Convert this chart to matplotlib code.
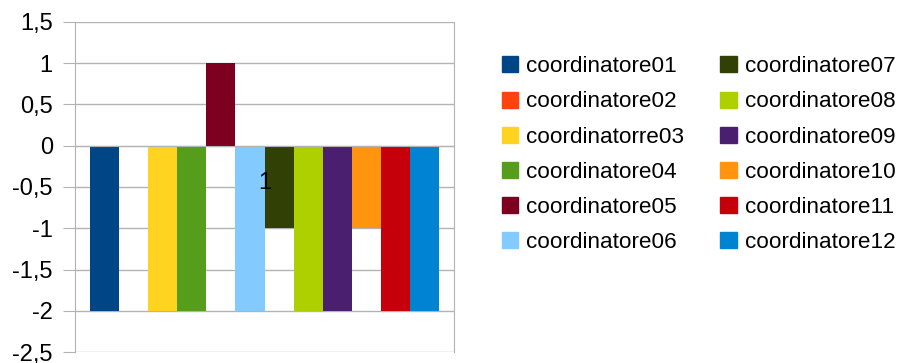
import matplotlib
matplotlib.use("Agg")
import matplotlib.pyplot as plt
from matplotlib.patches import Patch

plt.rcParams["font.family"] = ["Liberation Sans", "DejaVu Sans"]

# One category, twelve series (LibreOffice default palette)
categories = ["1"]
series_names = ["coordinatore01", "coordinatore02", "coordinatorre03", "coordinatore04",
                "coordinatore05", "coordinatore06", "coordinatore07", "coordinatore08",
                "coordinatore09", "coordinatore10", "coordinatore11", "coordinatore12"]
values = [-2, 0, -2, -2, 1, -2, -1, -2, -2, -1, -2, -2]
colors = ["#004586", "#ff420e", "#ffd320", "#579d1c", "#7e0021", "#83caff",
          "#314004", "#aecf00", "#4b1f6f", "#ff950e", "#c5000b", "#0084d1"]
y_ticks = [-2.5, -2, -1.5, -1, -0.5, 0, 0.5, 1, 1.5]
y_labels = ["-2,5", "-2", "-1,5", "-1", "-0,5", "0", "0,5", "1", "1,5"]

grey = "#b3b3b3"

fig = plt.figure(figsize=(9.03, 3.63), dpi=100)
ax = fig.add_axes([0.0831, 0.0303, 0.4197, 0.9091])

n = len(values)
group_width = 0.92
w = group_width / n
for i, (v, c) in enumerate(zip(values, colors)):
    x = 0 - group_width / 2 + w * (i + 0.5)
    ax.bar(x, v, width=w, color=c, zorder=1)

# gridlines behind the bars
for t in y_ticks:
    ax.axhline(t, color=grey, lw=1, zorder=0)

ax.set_xlim(-0.5, 0.5)
ax.set_ylim(-2.5, 1.5)
ax.set_yticks(y_ticks)
ax.set_yticklabels(y_labels, fontsize=17)
ax.tick_params(axis="y", length=9, color=grey, pad=7)

ax.spines["bottom"].set_position(("data", 0))
ax.spines["top"].set_visible(False)
for s in ["bottom", "left", "right"]:
    ax.spines[s].set_color(grey)
ax.set_xticks([0])
ax.set_xticklabels(categories, fontsize=17)
ax.tick_params(axis="x", length=0, pad=19)
ax.set_xticks([-0.5, 0.5], minor=True)
ax.tick_params(axis="x", which="minor", length=8, color=grey, direction="out")

handles = [Patch(facecolor=c, edgecolor=c) for c in colors]
fig.legend(handles, series_names, loc="upper left", bbox_to_anchor=(0.556, 0.845),
           ncol=2, frameon=False, fontsize=16.2, handlelength=0.72, handleheight=0.72,
           handletextpad=0.36, columnspacing=1.6, labelspacing=0.63,
           borderpad=0, borderaxespad=0)

fig.savefig("out.png", dpi=100)
